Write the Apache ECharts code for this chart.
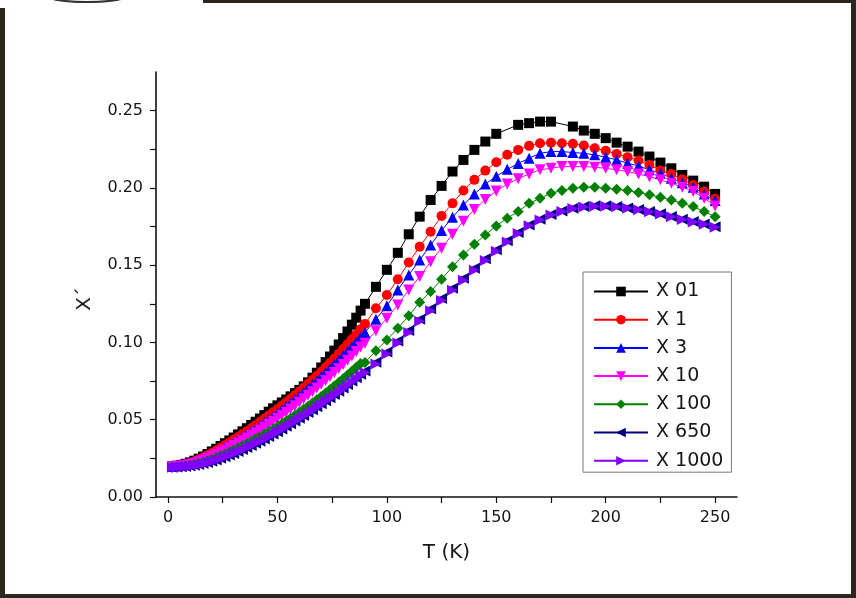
<!DOCTYPE html>
<html>
<head>
<meta charset="utf-8">
<script src="https://cdn.jsdelivr.net/npm/echarts@6.0.0/dist/echarts.min.js"></script>
<style>
html,body{margin:0;padding:0;background:#fff;}
#chart{width:856px;height:598px;}
</style>
</head>
<body>
<div id="chart"></div>
<script>
// Temperature values (K)
var tDense = [2,4,6,8,10,12,14,16,18,20,22,24,26,28,30,32,34,36,38,40,42,44,46,48,50,52,54,56,58,60,62,64,66,68,70,72,74,76,78,80,82,84,86,88];
var tSparse = [90,95,100,105,110,115,120,125,130,135,140,145,150,155,160,165,170,175,180,185,190,195,200,205,210,215,220,225,230,235,240,245,250];

// Series names
var seriesNames = ['X 01','X 1','X 3','X 10','X 100','X 650','X 1000'];

// X 01
var x01Dense = [0.0200,0.0203,0.0208,0.0215,0.0224,0.0235,0.0248,0.0262,0.0278,0.0295,0.0312,0.0330,0.0348,0.0366,0.0385,0.0405,0.0425,0.0445,0.0466,0.0487,0.0508,0.0530,0.0552,0.0574,0.0593,0.0612,0.0631,0.0651,0.0672,0.0693,0.0716,0.0742,0.0772,0.0804,0.0838,0.0873,0.0909,0.0947,0.0987,0.1028,0.1071,0.1115,0.1160,0.1206];
var x01Sparse = [0.1250,0.1360,0.1470,0.1580,0.1700,0.1814,0.1922,0.2013,0.2106,0.2181,0.2246,0.2300,0.2350,null,0.2408,0.2419,0.2429,0.2429,null,0.2397,0.2371,0.2350,0.2322,0.2293,0.2267,0.2235,0.2203,0.2164,0.2127,0.2084,0.2047,0.2008,0.1961];
// X 1
var x1Dense = [0.0200,0.0202,0.0206,0.0212,0.0220,0.0230,0.0242,0.0255,0.0270,0.0285,0.0301,0.0318,0.0335,0.0352,0.0370,0.0388,0.0407,0.0426,0.0445,0.0465,0.0485,0.0506,0.0527,0.0548,0.0569,0.0591,0.0613,0.0636,0.0659,0.0683,0.0707,0.0732,0.0758,0.0784,0.0811,0.0839,0.0867,0.0896,0.0926,0.0957,0.0988,0.1020,0.1052,0.1085];
var x1Sparse = [0.1120,0.1221,0.1307,0.1409,0.1517,0.1620,0.1717,0.1819,0.1900,0.1983,0.2052,0.2112,0.2166,0.2214,0.2246,0.2272,0.2289,0.2293,0.2289,0.2285,0.2274,0.2257,0.2241,0.2220,0.2199,0.2177,0.2149,0.2112,0.2090,0.2056,0.2019,0.1976,0.1930];
// X 3
var x3Dense = [0.0198,0.0200,0.0204,0.0209,0.0216,0.0225,0.0236,0.0248,0.0261,0.0275,0.0290,0.0305,0.0321,0.0337,0.0354,0.0371,0.0389,0.0407,0.0425,0.0444,0.0463,0.0483,0.0503,0.0523,0.0544,0.0565,0.0587,0.0609,0.0632,0.0655,0.0679,0.0703,0.0728,0.0753,0.0779,0.0805,0.0832,0.0859,0.0887,0.0915,0.0944,0.0973,0.1003,0.1033];
var x3Sparse = [0.1065,0.1150,0.1238,0.1340,0.1437,0.1534,0.1630,0.1725,0.1810,0.1890,0.1960,0.2025,0.2075,0.2120,0.2158,0.2192,0.2224,0.2235,0.2235,0.2229,0.2224,0.2214,0.2199,0.2181,0.2160,0.2142,0.2117,0.2095,0.2063,0.2034,0.2005,0.1961,0.1918];
// X 10
var x10Dense = [0.0195,0.0197,0.0200,0.0205,0.0211,0.0219,0.0228,0.0238,0.0250,0.0262,0.0275,0.0289,0.0303,0.0318,0.0333,0.0349,0.0365,0.0382,0.0399,0.0416,0.0434,0.0452,0.0471,0.0490,0.0509,0.0529,0.0549,0.0570,0.0591,0.0613,0.0635,0.0658,0.0681,0.0705,0.0729,0.0754,0.0779,0.0805,0.0831,0.0858,0.0885,0.0913,0.0941,0.0970];
var x10Sparse = [0.0995,0.1075,0.1157,0.1243,0.1340,0.1426,0.1523,0.1610,0.1700,0.1785,0.1860,0.1925,0.1980,0.2025,0.2060,0.2090,0.2117,0.2127,0.2138,0.2138,0.2138,0.2134,0.2127,0.2117,0.2106,0.2090,0.2073,0.2052,0.2030,0.2005,0.1976,0.1933,0.1883];
// X 100
var x100Dense = [0.0193,0.0194,0.0196,0.0200,0.0205,0.0211,0.0218,0.0226,0.0235,0.0245,0.0256,0.0267,0.0279,0.0291,0.0304,0.0317,0.0331,0.0345,0.0360,0.0375,0.0390,0.0406,0.0422,0.0439,0.0456,0.0474,0.0492,0.0510,0.0529,0.0548,0.0568,0.0588,0.0609,0.0630,0.0651,0.0673,0.0695,0.0718,0.0741,0.0765,0.0789,0.0814,0.0839,0.0864];
var x100Sparse = [0.0870,0.0947,0.1016,0.1092,0.1172,0.1260,0.1329,0.1409,0.1490,0.1566,0.1636,0.1696,0.1754,0.1804,0.1847,0.1900,0.1933,0.1966,0.1983,0.1998,0.2005,0.2005,0.1998,0.1992,0.1983,0.1970,0.1955,0.1940,0.1922,0.1900,0.1879,0.1847,0.1814];
// X 650
var x650Dense = [0.0193,0.0194,0.0196,0.0198,0.0201,0.0205,0.0210,0.0216,0.0223,0.0231,0.0240,0.0250,0.0260,0.0271,0.0282,0.0294,0.0307,0.0320,0.0333,0.0347,0.0361,0.0376,0.0391,0.0407,0.0423,0.0440,0.0457,0.0474,0.0491,0.0509,0.0527,0.0546,0.0565,0.0584,0.0603,0.0623,0.0643,0.0664,0.0685,0.0706,0.0728,0.0750,0.0772,0.0794];
var x650Sparse = [0.0815,0.0872,0.0938,0.1010,0.1078,0.1150,0.1218,0.1285,0.1350,0.1415,0.1480,0.1542,0.1600,0.1658,0.1712,0.1760,0.1797,0.1828,0.1850,0.1868,0.1879,0.1884,0.1884,0.1880,0.1870,0.1860,0.1848,0.1833,0.1815,0.1798,0.1782,0.1767,0.1748];
// X 1000
var x1000Dense = [0.0192,0.0193,0.0195,0.0197,0.0200,0.0204,0.0209,0.0215,0.0222,0.0230,0.0239,0.0249,0.0259,0.0270,0.0281,0.0293,0.0305,0.0318,0.0331,0.0345,0.0359,0.0374,0.0389,0.0405,0.0421,0.0437,0.0454,0.0471,0.0488,0.0506,0.0524,0.0542,0.0561,0.0580,0.0599,0.0619,0.0639,0.0659,0.0680,0.0701,0.0722,0.0744,0.0766,0.0788];
var x1000Sparse = [0.0805,0.0860,0.0925,0.0997,0.1065,0.1138,0.1205,0.1272,0.1337,0.1403,0.1468,0.1530,0.1590,0.1650,0.1705,0.1755,0.1793,0.1825,0.1847,0.1866,0.1877,0.1882,0.1882,0.1878,0.1868,0.1858,0.1846,0.1831,0.1813,0.1796,0.1780,0.1765,0.1745];

// Tick values
var xLabelValues = [0,50,100,150,200,250];
var xTickValues = [0,25,50,75,100,125,150,175,200,225,250];
var yLabelValues = [0,0.05,0.10,0.15,0.20,0.25];
var yTickValues = [0,0.025,0.05,0.075,0.10,0.125,0.15,0.175,0.20,0.225,0.25];

function pairs(dense, sparse) {
  var out = [];
  for (var i = 0; i < tDense.length; i++) out.push([tDense[i], dense[i]]);
  for (var j = 0; j < tSparse.length; j++) out.push([tSparse[j], sparse[j]]);
  return out;
}

var allDense = [x01Dense, x1Dense, x3Dense, x10Dense, x100Dense, x650Dense, x1000Dense];
var allSparse = [x01Sparse, x1Sparse, x3Sparse, x10Sparse, x100Sparse, x650Sparse, x1000Sparse];
var colors = ['#000000','#ff0000','#0000ff','#ff00ff','#008000','#000080','#8000ff'];
var symbols = ['rect','circle','triangle','triangle','diamond','triangle','triangle'];
var rotates = [0,0,0,180,0,90,-90];
var sizes = [10,10,11,11,11,11,11];

var series = seriesNames.map(function (n, i) {
  return {
    name: n,
    type: 'line',
    data: pairs(allDense[i], allSparse[i]),
    connectNulls: true,
    symbol: symbols[i],
    symbolRotate: rotates[i],
    symbolSize: sizes[i],
    showAllSymbol: true,
    animation: false,
    color: colors[i],
    lineStyle: { width: 1, color: colors[i] },
    itemStyle: { color: colors[i] }
  };
});

var font = 'DejaVu Sans';
var frameColor = '#2b271f';
var textColor = '#161616';

var chart = echarts.init(document.getElementById('chart'), null, { renderer: 'canvas' });
chart.setOption({
  backgroundColor: '#ffffff',
  animation: false,
  grid: { left: 156, right: 119, top: 72, bottom: 101, containLabel: false, outerBoundsMode: 'none' },
  legend: {
    orient: 'vertical',
    left: 583,
    top: 272,
    itemWidth: 54,
    itemHeight: 12,
    itemGap: 9.2,
    padding: [10, 8, 2, 10],
    borderColor: '#777777',
    borderWidth: 1,
    borderRadius: 0,
    textStyle: { fontFamily: font, fontSize: 19, color: textColor, padding: [0, 0, 0, 3] },
    data: seriesNames
  },
  xAxis: {
    type: 'value',
    min: -5.5,
    max: 260,
    name: 'T (K)',
    nameLocation: 'middle',
    nameGap: 46,
    nameTextStyle: { fontFamily: font, fontSize: 20, color: textColor },
    axisLine: { show: true, onZero: false, lineStyle: { color: '#111111', width: 1.6 } },
    axisTick: { show: true, inside: false, length: 6, customValues: xTickValues, lineStyle: { color: '#111111', width: 1.2 } },
    axisLabel: { customValues: xLabelValues, margin: 13, fontFamily: font, fontSize: 16, color: textColor },
    splitLine: { show: false }
  },
  yAxis: {
    type: 'value',
    min: 0,
    max: 0.275,
    axisLine: { show: true, onZero: false, lineStyle: { color: '#111111', width: 1.6 } },
    axisTick: { show: true, inside: false, length: 6, customValues: yTickValues, lineStyle: { color: '#111111', width: 1.2 } },
    axisLabel: {
      customValues: yLabelValues, margin: 13, fontFamily: font, fontSize: 16, color: textColor,
      formatter: function (v) { return v.toFixed(2); }
    },
    splitLine: { show: false }
  },
  graphic: [
    { type: 'rect', shape: { x: 0, y: 8, width: 5, height: 590 }, style: { fill: frameColor }, silent: true },
    { type: 'rect', shape: { x: 0, y: 594, width: 856, height: 4 }, style: { fill: frameColor }, silent: true },
    { type: 'rect', shape: { x: 851, y: 0, width: 5, height: 598 }, style: { fill: frameColor }, silent: true },
    { type: 'rect', shape: { x: 203, y: 0, width: 653, height: 3 }, style: { fill: frameColor }, silent: true },
    { type: 'ellipse', shape: { cx: 87, cy: -6, rx: 44, ry: 8 }, style: { fill: 'none', stroke: '#333333', lineWidth: 2 }, silent: true },
    { type: 'text', x: 85, y: 299, rotation: Math.PI / 2,
      style: { text: 'X´', fontFamily: font, fontSize: 20, fill: textColor, align: 'center', verticalAlign: 'middle' }, silent: true }
  ],
  series: series
});
</script>
</body>
</html>
